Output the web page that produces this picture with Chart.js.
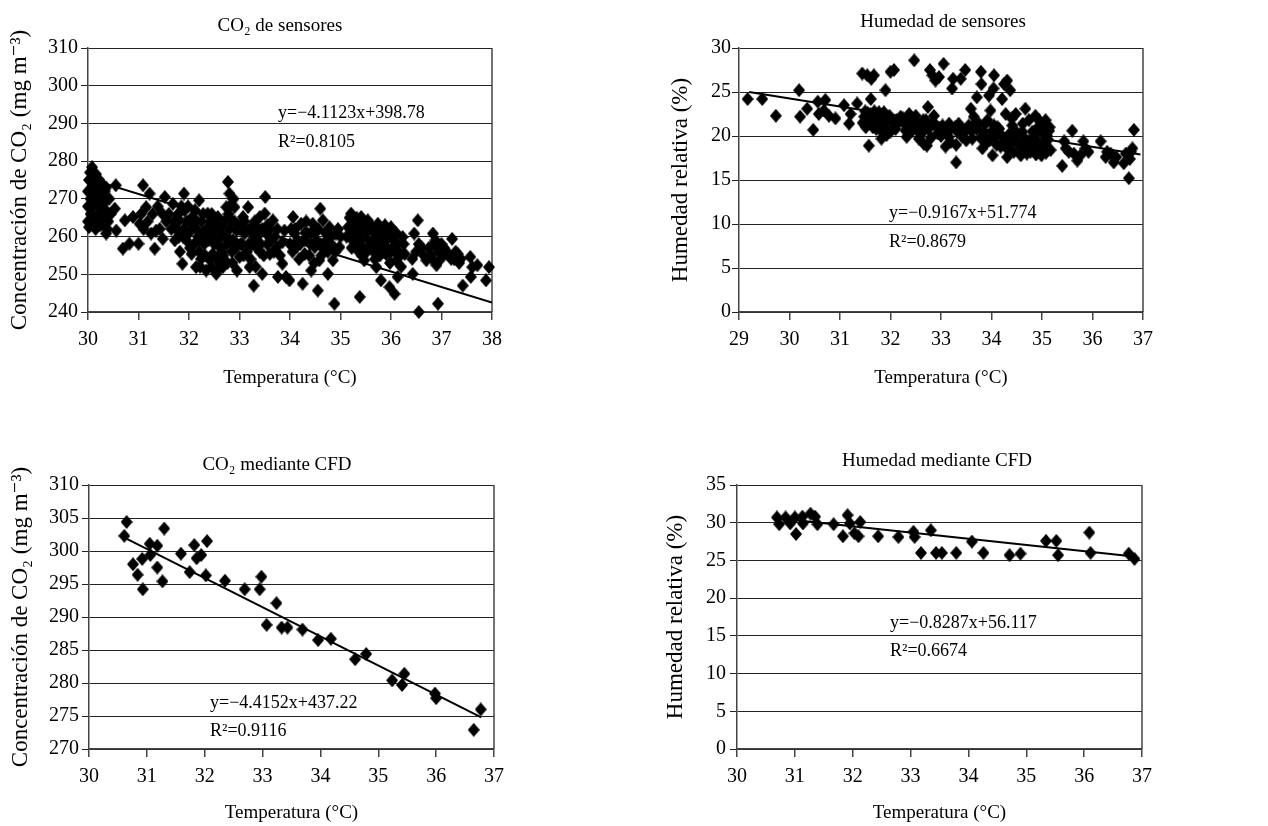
<!DOCTYPE html>
<html><head><meta charset="utf-8">
<script src="https://cdn.jsdelivr.net/npm/chart.js@4.4.1/dist/chart.umd.min.js"></script>
<style>
html,body{margin:0;padding:0;background:#fff;}
#wrap{position:relative;width:1268px;height:826px;overflow:hidden;}
.cell{position:absolute;width:634px;height:413px;}
canvas{display:block;}
</style></head><body>
<div id="wrap">
<div class="cell" style="left:0;top:0"><canvas id="c1" width="634" height="413"></canvas></div>
<div class="cell" style="left:634px;top:0"><canvas id="c2" width="634" height="413"></canvas></div>
<div class="cell" style="left:0;top:413px"><canvas id="c3" width="634" height="413"></canvas></div>
<div class="cell" style="left:634px;top:413px"><canvas id="c4" width="634" height="413"></canvas></div>
</div>
<script>
// ---------- DATA ----------
const titles = ["CO₂ de sensores", "Humedad de sensores", "CO₂ mediante CFD", "Humedad mediante CFD"];
const xAxisTitle = "Temperatura (°C)";
const yTitleCO2 = "Concentración de CO₂ (mg m⁻³)";
const yTitleHum = "Humedad relativa (%)";

const eqCO2Sensors = ["y=−4.1123x+398.78", "R²=0.8105"];
const eqHumSensors = ["y=−0.9167x+51.774", "R²=0.8679"];
const eqCO2CFD = ["y=−4.4152x+437.22", "R²=0.9116"];
const eqHumCFD = ["y=−0.8287x+56.117", "R²=0.6674"];

// axis ranges [min, max, step]
const xRangeCO2Sensors = [30, 38, 1];
const yRangeCO2Sensors = [240, 310, 10];
const xRangeHumSensors = [29, 37, 1];
const yRangeHumSensors = [0, 30, 5];
const xRangeCO2CFD = [30, 37, 1];
const yRangeCO2CFD = [270, 310, 5];
const xRangeHumCFD = [30, 37, 1];
const yRangeHumCFD = [0, 35, 5];

// trend line end points [x, y]
const trendCO2Sensors = [[30.0, 275.4], [38.0, 242.5]];
const trendHumSensors = [[29.2, 25.0], [36.95, 17.9]];
const trendCO2CFD = [[30.62, 302.0], [36.78, 274.8]];
const trendHumCFD = [[30.7, 30.6], [36.9, 25.5]];

// scatter points [temperature, value]
const co2SensorPoints = [
[30.08,278.4],[30.36,260.8],[30.55,273.6],[30.53,267.4],[30.56,261.6],[30.69,256.8],[30.73,264.3],[30.82,258.1],
[30.89,265.2],[31.00,258.1],[31.09,273.6],[31.02,263.4],[31.15,267.8],[31.22,271.4],[31.25,260.8],[31.32,256.8],
[31.35,261.6],[31.48,259.4],[31.52,270.5],[31.47,266.1],[31.68,268.7],[31.81,264.3],[31.87,252.8],[31.90,271.4],
[31.95,259.0],[31.91,266.9],[32.05,255.4],[32.14,251.9],[32.20,269.6],[32.14,264.3],[32.21,259.0],[32.24,254.1],
[32.34,251.0],[32.37,266.1],[32.34,260.8],[32.47,255.4],[32.44,261.6],[32.54,250.1],[32.57,265.2],[32.61,257.2],
[32.67,251.9],[32.64,260.8],[32.74,267.8],[32.77,274.5],[32.80,271.4],[32.84,264.3],[32.87,259.0],[32.90,267.8],
[32.94,261.6],[32.95,251.0],[33.00,254.6],[33.07,265.2],[33.10,260.8],[33.17,267.8],[33.20,251.9],[33.27,262.5],
[33.28,247.0],[33.33,257.2],[33.40,265.2],[33.45,250.1],[33.51,270.5],[33.50,266.1],[33.53,260.8],[33.60,255.4],
[33.66,264.3],[33.73,257.2],[33.76,249.3],[33.85,258.5],[33.85,252.8],[33.89,261.6],[33.92,249.3],[33.99,248.4],
[34.06,265.2],[34.09,260.8],[34.12,257.2],[34.22,263.4],[34.25,247.5],[34.29,255.4],[34.35,260.8],[34.42,251.0],
[34.45,263.4],[34.49,257.2],[34.55,245.7],[34.60,267.4],[34.58,253.7],[34.65,264.3],[34.72,259.0],[34.75,250.1],
[34.78,262.5],[34.85,253.7],[34.88,242.2],[34.91,260.8],[34.98,257.2],[35.15,262.5],[35.21,266.1],[35.24,259.0],
[35.31,263.4],[35.34,256.3],[35.38,244.0],[35.41,265.2],[35.44,260.8],[35.47,253.7],[35.54,264.3],[35.57,257.2],
[35.64,261.6],[35.71,251.9],[35.74,263.4],[35.77,257.2],[35.80,248.4],[35.87,260.8],[35.90,255.4],[35.97,246.6],
[36.00,262.5],[36.04,257.2],[36.07,244.8],[36.10,253.7],[36.13,249.3],[36.23,259.9],[36.27,255.4],[36.42,254.1],
[36.43,250.1],[36.46,260.8],[36.53,264.3],[36.55,240.0],[36.60,257.2],[36.70,253.7],[36.83,260.8],[36.90,257.2],
[36.93,242.2],[36.90,252.4],[37.03,255.4],[37.19,254.1],[37.21,259.4],[37.32,255.4],[37.38,254.1],[37.42,247.0],
[37.57,254.6],[37.58,249.3],[37.61,251.9],[37.71,252.4],[37.88,248.4],[37.94,251.9],
[30.00,264],[30.00,268],[30.00,272],[30.02,275],[30.05,270],[30.05,266],[30.08,273],[30.10,263],[30.10,268],
[30.12,276],[30.12,271],[30.15,265],[30.15,262],[30.18,274],[30.18,269],[30.20,266],[30.22,272],[30.25,263],
[30.25,268],[30.28,274],[30.30,270],[30.30,265],[30.33,272],[30.35,267],[30.40,264],[30.42,270],[30.45,266],
[31.60,266],[31.70,264],[31.75,262],[31.80,260],[31.85,268],[31.90,262],[31.95,264],
[32.00,261],[32.05,265],[32.10,258],[32.15,262],[32.20,256],[32.25,264],[32.30,258],[32.35,262],[32.40,254],
[32.45,266],[32.50,258],[32.50,262],[32.55,254],[32.60,262],[32.65,256],[32.70,264],[32.75,258],[32.80,262],
[32.80,268],[32.85,256],[32.90,264],[32.95,258],[33.00,262],[33.05,258],[33.10,264],[33.15,256],[33.20,262],
[33.25,258],[33.30,264],[33.35,260],[33.40,256],[33.45,262],[33.55,258],[33.60,262],[33.70,260],
[34.00,258],[34.10,262],[34.20,258],[34.30,261],[34.40,258],[34.50,261],[34.60,258],[34.70,261],[34.80,258],
[34.90,256],[35.00,260],
[35.20,262],[35.25,264],[35.30,258],[35.35,261],[35.40,262],[35.45,257],[35.50,261],[35.55,259],[35.60,263],
[35.65,256],[35.70,260],[35.75,259],[35.80,262],[35.85,256],[35.90,259],[35.95,261],[36.00,256],[36.05,259],
[36.10,261],[36.15,256],[36.80,255],[36.85,258],[36.95,256],[37.00,258],[37.10,256],[37.25,254],
[30.02,262.5],[30.04,277],[30.06,263.5],[30.08,265],[30.10,272],[30.14,269],[30.16,276.5],[30.20,263],[30.22,275],
[30.26,270],[30.28,266],[30.32,269],[30.36,273],[30.38,262],
[31.05,266],[31.10,262],[31.18,264],[31.28,266],[31.38,268],[31.42,262],[31.55,264],
[31.65,262],[31.72,259],[31.78,266],[31.82,256],[31.88,260],[31.98,268],[32.02,257],[32.08,263],[32.12,267],
[32.18,260],[32.22,252],[32.28,261],[32.28,266],[32.32,255],[32.38,259],[32.42,264],[32.45,252],[32.48,260],
[32.52,264],[32.56,251],[32.58,259],[32.62,253],[32.66,263],[32.68,255],[32.72,260],[32.76,253],[32.78,266],
[32.82,259],[32.86,253],[32.88,270],[32.92,257],[32.97,263],
[33.02,258],[33.08,255],[33.12,262],[33.18,258],[33.22,254],[33.28,260],[33.32,252],[33.38,262],[33.42,258],
[33.48,255],[33.55,263],[33.62,259],[33.68,256],[33.75,262],[33.80,255],
[34.02,262],[34.05,256],[34.15,259],[34.18,254],[34.28,259],[34.32,264],[34.38,255],[34.42,261],[34.48,253],
[34.52,259],[34.56,262],[34.62,255],[34.68,257],[34.75,256],[34.82,260],[34.88,257],[34.95,262],
[35.12,260],[35.18,265],[35.22,257],[35.28,261],[35.32,265],[35.38,259],[35.42,255],[35.48,263],[35.52,256],
[35.58,262],[35.62,258],[35.68,254],[35.72,262],[35.78,255],[35.82,259],[35.88,263],[35.92,257],[35.98,253],
[36.02,260],[36.08,256],[36.12,258],[36.18,255],[36.20,252],[36.25,258],
[36.50,256],[36.55,258],[36.65,255],[36.75,257],[36.82,254],[36.88,259],[36.98,254],[37.05,257],[37.15,255],
[37.28,256],[37.35,253]
];

const humSensorPoints = [
[29.17,24.2],[29.46,24.2],[29.73,22.3],[30.19,25.2],[30.21,22.2],[30.35,23.1],[30.47,20.7],[30.56,23.9],
[30.58,22.5],[30.71,24.1],[30.68,22.9],[30.78,22.3],[30.91,22.0],[31.08,23.5],[31.18,21.4],[31.21,22.5],
[31.34,23.7],[31.44,27.1],[31.48,22.2],[31.51,21.0],[31.54,26.9],[31.57,18.9],[31.61,24.2],[31.62,26.5],
[31.64,22.2],[31.67,26.9],[31.71,21.4],[31.77,22.7],[31.82,19.7],[31.87,22.7],[31.90,25.2],[31.92,20.1],
[32.00,27.3],[32.04,21.8],[32.07,27.5],[32.10,20.8],[32.20,22.2],[32.27,21.4],[32.32,19.9],[32.37,22.5],
[32.47,28.6],[32.43,20.6],[32.50,22.3],[32.56,19.7],[32.60,21.2],[32.66,19.1],[32.72,18.9],[32.74,23.3],
[32.78,27.5],[32.83,26.9],[32.86,22.3],[32.89,26.3],[32.93,20.3],[32.96,26.7],[33.03,21.2],[33.05,28.2],
[33.09,18.8],[33.16,21.4],[33.19,19.3],[33.22,25.4],[33.24,26.5],[33.30,17.0],[33.32,20.5],[33.35,21.4],
[33.39,26.5],[33.45,20.5],[33.48,27.5],[33.52,20.8],[33.59,23.1],[33.62,19.7],[33.65,22.2],[33.71,24.4],
[33.75,21.4],[33.79,27.3],[33.80,25.9],[33.82,18.6],[33.84,20.5],[33.92,21.8],[33.95,24.6],[33.98,22.9],
[34.02,17.8],[34.04,25.4],[34.05,26.9],[34.08,19.9],[34.12,21.0],[34.18,18.8],[34.21,24.2],[34.25,25.9],
[34.28,22.5],[34.31,26.3],[34.31,17.6],[34.34,19.9],[34.37,25.2],[34.41,21.2],[34.44,18.2],[34.48,22.5],
[34.51,19.3],[34.58,17.8],[34.61,20.5],[34.67,23.1],[34.71,19.1],[34.74,21.8],[34.77,18.2],[34.81,20.5],
[34.87,22.3],[34.91,19.3],[34.94,21.8],[34.99,17.8],[35.01,20.3],[35.07,21.8],[35.10,18.6],[35.14,20.6],
[35.17,18.4],[35.40,16.6],[35.44,19.4],[35.47,18.6],[35.53,18.2],[35.60,20.6],[35.63,18.0],[35.70,17.2],
[35.76,17.8],[35.82,19.4],[35.86,18.6],[35.92,18.2],[36.16,19.4],[36.26,17.6],[36.29,18.2],[36.36,18.0],
[36.42,17.0],[36.47,17.6],[36.62,16.9],[36.66,18.0],[36.72,15.2],[36.74,17.4],[36.76,18.2],[36.79,18.6],
[36.82,20.7],
[31.45,21.5],[31.50,22.8],[31.55,21.8],[31.60,22.5],[31.65,21.0],[31.70,22.3],[31.75,21.6],[31.80,22.0],
[31.85,21.0],[31.95,21.8],[32.00,20.5],[32.15,21.5],[32.25,22.0],[32.35,21.0],[32.45,21.8],[32.55,20.5],
[32.65,21.8],[32.75,20.8],[32.85,21.5],[32.95,20.8],[33.10,20.8],[33.20,21.0],[33.40,20.8],[33.55,21.2],
[33.70,20.8],[33.85,20.0],[33.90,19.2],[34.00,20.5],[34.10,19.0],[34.15,20.8],[34.25,19.4],[34.35,20.2],
[34.45,19.8],[34.55,19.0],[34.60,18.6],[34.65,19.8],[34.75,19.4],[34.85,18.8],[34.90,20.5],[34.95,19.0],
[35.05,19.2],[35.10,20.0],
[31.50,21.2],[31.55,22.6],[31.60,21.5],[31.68,22.8],[31.72,20.8],[31.78,21.8],[31.83,20.5],[31.90,21.5],
[31.98,22.3],[32.05,20.9],[32.12,21.8],[32.30,20.6],[32.40,22.0],[32.52,21.2],[32.62,20.3],[32.70,21.8],
[32.80,19.8],[32.90,21.2],[33.00,20.0],[33.12,20.3],[33.28,21.0],[33.42,19.9],[33.60,20.6],[33.68,21.5],
[33.78,19.8],[33.88,21.4],[33.96,19.5],[34.05,21.2],[34.20,20.0],[34.30,18.6],[34.38,19.2],[34.40,22.0],
[34.50,20.4],[34.62,21.4],[34.70,18.0],[34.80,19.6],[34.88,17.9],[34.92,21.0],[35.00,18.4],[35.03,21.2],
[35.08,18.1],[35.12,19.6],[35.15,21.0],[33.50,19.5],[33.30,19.0],[33.15,19.9]
];

const co2CFDPoints = [
[30.61,302.3],[30.65,304.4],[30.76,298.0],[30.84,296.4],[30.92,298.8],[30.93,294.2],[31.05,301.1],[31.06,299.4],
[31.18,300.8],[31.18,297.5],[31.27,295.4],[31.30,303.4],[31.59,299.6],[31.74,296.8],[31.82,300.9],[31.86,298.9],
[31.94,299.4],[32.02,296.3],[32.04,301.5],[32.35,295.5],[32.69,294.2],[32.95,294.2],[32.98,296.1],[33.07,288.8],
[33.24,292.1],[33.33,288.4],[33.43,288.4],[33.69,288.1],[33.96,286.5],[34.18,286.7],[34.60,283.6],[34.79,284.4],
[35.24,280.4],[35.41,279.7],[35.45,281.4],[35.98,278.4],[36.00,277.7],[36.65,272.9],[36.77,276.0]
];

const humCFDPoints = [
[30.69,30.7],[30.73,29.8],[30.84,30.7],[30.92,29.9],[31.00,30.7],[31.02,28.5],[31.13,30.8],[31.14,29.9],
[31.27,31.2],[31.35,30.8],[31.39,29.8],[31.67,29.8],[31.83,28.2],[31.91,31.0],[31.95,29.9],[32.03,28.6],
[32.10,28.2],[32.13,30.1],[32.44,28.2],[32.79,28.1],[33.05,28.8],[33.07,28.1],[33.18,26.0],[33.35,29.0],
[33.44,26.0],[33.54,26.0],[33.79,26.0],[34.06,27.5],[34.26,26.0],[34.71,25.7],[34.90,25.9],[35.34,27.6],
[35.52,27.6],[35.55,25.7],[36.09,28.7],[36.11,26.0],[36.77,25.9],[36.87,25.2]
];

// ---------- RENDERING ----------
const FONT = "'Liberation Serif', 'Times New Roman', 'DejaVu Serif', serif";
Chart.defaults.font.family = FONT;
Chart.defaults.color = '#000';

function makeDiamond(w, h) {
  const c = document.createElement('canvas');
  c.width = w; c.height = h;
  const g = c.getContext('2d');
  g.fillStyle = '#000';
  g.beginPath();
  g.moveTo(w / 2, 0); g.lineTo(w, h / 2); g.lineTo(w / 2, h); g.lineTo(0, h / 2);
  g.closePath(); g.fill();
  return c;
}
const diamond = makeDiamond(12, 14);

function toXY(arr) { return arr.map(p => ({x: p[0], y: p[1]})); }

function build(id, s) {
  const H = 413, W = 634;
  const textPlugin = {
    id: 'texts' + id,
    beforeDatasetsDraw(chart) {
      const a = chart.chartArea, ctx = chart.ctx;
      ctx.save();
      ctx.strokeStyle = '#444'; ctx.lineWidth = 1.5;
      ctx.beginPath(); ctx.moveTo(a.right, a.top); ctx.lineTo(a.right, a.bottom); ctx.stroke();
      ctx.restore();
    },
    afterDraw(chart) {
      const ctx = chart.ctx;
      ctx.save();
      ctx.fillStyle = '#000';
      ctx.textBaseline = 'alphabetic';
      ctx.font = '19px ' + FONT;
      ctx.textAlign = 'center';
      ctx.fillText(s.title, s.titlePos[0], s.titlePos[1]);
      ctx.font = '18px ' + FONT;
      ctx.textAlign = 'left';
      ctx.fillText(s.eq[0], s.eqPos[0], s.eqPos[1]);
      ctx.fillText(s.eq[1], s.eqPos[0], s.eqPos[2]);
      ctx.restore();
    }
  };
  new Chart(document.getElementById(id), {
    type: 'scatter',
    data: {
      datasets: [
        {data: toXY(s.points), pointStyle: diamond, pointRadius: 6, pointHoverRadius: 6, clip: false, order: 0},
        {type: 'line', data: toXY(s.trend), borderColor: '#000', borderWidth: 2, pointRadius: 0, fill: false, order: 1}
      ]
    },
    options: {
      responsive: false, animation: false, events: [],
      layout: {padding: {left: 0, top: s.area.top, right: W - s.area.right, bottom: 0}},
      plugins: {legend: {display: false}, tooltip: {enabled: false}, title: {display: false}},
      scales: {
        x: {
          type: 'linear', min: s.xr[0], max: s.xr[1],
          ticks: {stepSize: s.xr[2], font: {size: 20}, color: '#000', padding: 8, maxRotation: 0, autoSkip: false},
          grid: {drawOnChartArea: false, drawTicks: true, tickLength: 8, color: '#444', lineWidth: 1.5},
          border: {display: true, color: '#444', width: 1.5},
          title: {display: true, text: xAxisTitle, font: {size: 19}, color: '#000', padding: {top: 0, bottom: s.xTitlePad}},
          afterFit(sc) { sc.height = H - s.area.bottom; sc.paddingLeft = 0; sc.paddingRight = 0; }
        },
        y: {
          min: s.yr[0], max: s.yr[1],
          ticks: {stepSize: s.yr[2], font: {size: 20}, color: '#000', padding: s.yTickPad, autoSkip: false},
          grid: {drawOnChartArea: true, drawTicks: true, tickLength: 7, color: '#222', lineWidth: 1},
          border: {display: true, color: '#444', width: 1.5},
          title: {display: true, text: s.yTitle, font: {size: 23}, color: '#000', padding: {top: s.yTitlePad, bottom: 0}},
          afterFit(sc) { sc.width = s.area.left; sc.paddingTop = 0; sc.paddingBottom = 0; }
        }
      }
    },
    plugins: [textPlugin]
  });
}

build('c1', {points: co2SensorPoints, trend: trendCO2Sensors, xr: xRangeCO2Sensors, yr: yRangeCO2Sensors,
  area: {left: 88, top: 48, right: 492, bottom: 312}, yTitle: yTitleCO2, yTitlePad: 6, xTitlePad: 24, yTickPad: 3,
  title: titles[0], titlePos: [280, 31], eq: eqCO2Sensors, eqPos: [278, 118, 147]});
build('c2', {points: humSensorPoints, trend: trendHumSensors, xr: xRangeHumSensors, yr: yRangeHumSensors,
  area: {left: 105, top: 48, right: 509, bottom: 312}, yTitle: yTitleHum, yTitlePad: 33, xTitlePad: 24, yTickPad: 1,
  title: titles[1], titlePos: [309, 27], eq: eqHumSensors, eqPos: [255, 218, 247]});
build('c3', {points: co2CFDPoints, trend: trendCO2CFD, xr: xRangeCO2CFD, yr: yRangeCO2CFD,
  area: {left: 89, top: 72, right: 494, bottom: 336}, yTitle: yTitleCO2, yTitlePad: 7, xTitlePad: 2, yTickPad: 3,
  title: titles[2], titlePos: [277, 57], eq: eqCO2CFD, eqPos: [210, 295, 323]});
build('c4', {points: humCFDPoints, trend: trendHumCFD, xr: xRangeHumCFD, yr: yRangeHumCFD,
  area: {left: 103, top: 72, right: 508, bottom: 336}, yTitle: yTitleHum, yTitlePad: 28, xTitlePad: 2, yTickPad: 4,
  title: titles[3], titlePos: [303, 53], eq: eqHumCFD, eqPos: [256, 215, 243]});
</script>
</body></html>
